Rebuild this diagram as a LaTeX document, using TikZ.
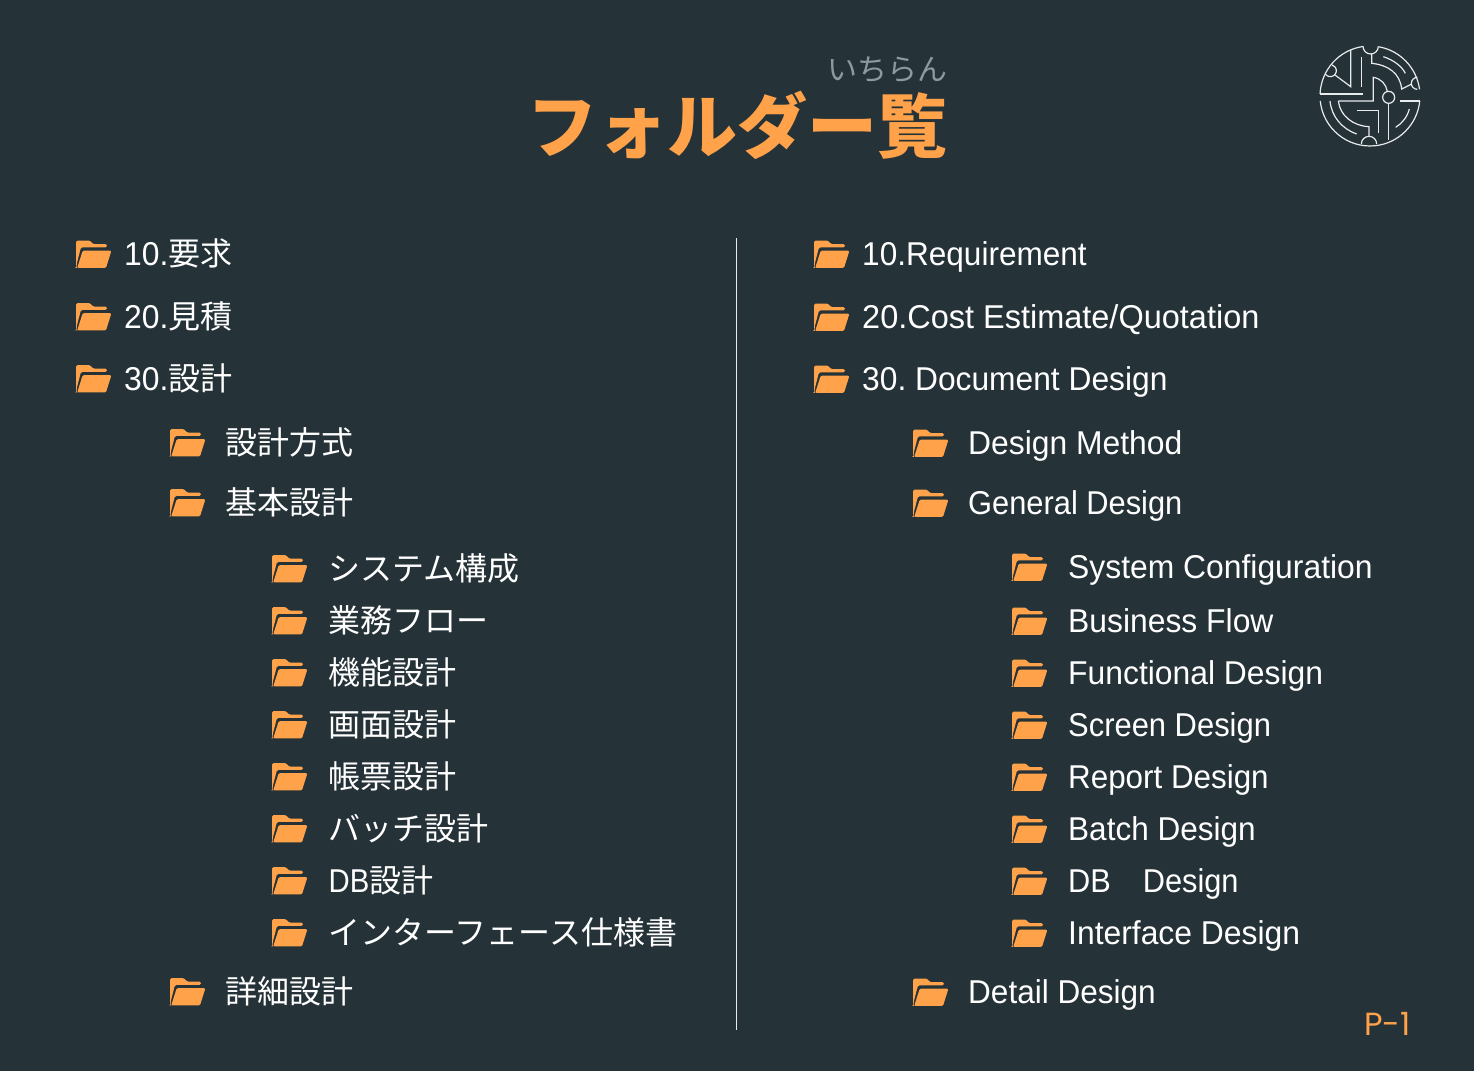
\documentclass[tikz,border=0pt]{standalone}
\usepackage{graphicx}
\usepackage{fontspec}
\setmainfont{Liberation Sans}[FakeStretch=0.965]
\newfontfamily\jpbase{Noto Sans CJK JP}
\newfontfamily\pg{Poppins}
\newcommand{\jp}{\jpbase\fontsize{32}{32}\selectfont}
\frenchspacing
\definecolor{bgc}{HTML}{253238}
\definecolor{org}{HTML}{FFA24A}
\definecolor{rubyc}{HTML}{8E999D}
\definecolor{logoc}{HTML}{E8EAEB}
\tikzset{
 rowtext/.style={anchor=base west,inner sep=0pt,text=white,font=\fontsize{33}{33}\selectfont},
 logoline/.style={draw=logoc,line width=1.2pt},
 folderpic/.pic={
  \fill[org,rounded corners=1.5pt] (0,0) -- (14,0) -- (17,3.7) -- (31,3.7) -- (31,6.8) -- (5,6.8) -- (0.8,23) -- (0.6,27.4) -- (0,27.4) -- cycle;
  \fill[org,rounded corners=1.2pt] (6.7,10.2) -- (35.4,10.2) -- (30,27.4) -- (1.2,27.4) -- cycle;
 }
}
\newcommand{\rowitem}[6][1]{%
 \pic at (#3,#5-13.5) {folderpic};
 \node[rowtext] (#2) at (#4,#5+11.5) {\scalebox{#1}[1]{#6}};
}
\begin{document}
\begin{tikzpicture}[x=1pt,y=-1pt]
\useasboundingbox (0,0) rectangle (1474,1071);
\fill[bgc] (0,0) rectangle (1474,1071);
\node[anchor=base,inner sep=0pt,text=org,font=\jpbase\bfseries\fontsize{70}{70}\selectfont] (title) at (737.5,152.5) {フォルダー覧};
\node[anchor=base,inner sep=0pt,text=rubyc,font=\jpbase\fontsize{30}{30}\selectfont] (ruby) at (887.5,80) {いちらん};
\node[anchor=base east,inner sep=0pt,text=org,font=\pg\fontsize{32}{32}\selectfont] (page) at (1411,1035) {P-1};
\coordinate (dtop) at (736.5,238);
\coordinate (dbot) at (736.5,1030);
\draw[draw=logoc,line width=1pt] (dtop) -- (dbot);
% left column
\rowitem{l1}{76}{124}{254}{10.{\jp 要求}}
\rowitem{l2}{76}{124}{316.5}{20.{\jp 見積}}
\rowitem{l3}{76}{124}{378.5}{30.{\jp 設計}}
\rowitem{l4}{170}{225}{442.5}{\jp 設計方式}
\rowitem{l5}{170}{225}{502.5}{\jp 基本設計}
\rowitem{l6}{272}{328.5}{568.5}{\jp システム構成}
\rowitem{l7}{272}{328.5}{620.5}{\jp 業務フロー}
\rowitem{l8}{272}{328.5}{672.5}{\jp 機能設計}
\rowitem{l9}{272}{328.5}{724.5}{\jp 画面設計}
\rowitem{l10}{272}{328.5}{776.5}{\jp 帳票設計}
\rowitem{l11}{272}{328.5}{828.5}{\jp バッチ設計}
\rowitem{l12}{272}{328.5}{880.5}{\scalebox{0.92}[1]{DB}{\jp 設計}}
\rowitem{l13}{272}{328.5}{932.5}{\jp インターフェース仕様書}
\rowitem{l14}{170}{225}{991.5}{\jp 詳細設計}
% right column
\rowitem[0.991]{r1}{814}{862}{254}{10.Requirement}
\rowitem[1.02]{r2}{814}{862}{317}{20.Cost Estimate/Quotation}
\rowitem[0.997]{r3}{814}{862}{379}{30. Document Design}
\rowitem{r4}{913}{968}{443}{Design Method}
\rowitem[0.968]{r5}{913}{968}{503}{General Design}
\rowitem{r6}{1012}{1068}{567}{System Configuration}
\rowitem{r7}{1012}{1068}{621}{Business Flow}
\rowitem{r8}{1012}{1068}{673}{Functional Design}
\rowitem[0.971]{r9}{1012}{1068}{725}{Screen Design}
\rowitem[0.985]{r10}{1012}{1068}{777}{Report Design}
\rowitem[0.99]{r11}{1012}{1068}{829}{Batch Design}
\rowitem[0.966]{r12}{1012}{1068}{881}{DB\hspace{33pt}Design}
\rowitem{r13}{1012}{1068}{933}{Interface Design}
\rowitem[0.99]{r14}{913}{968}{992}{Detail Design}
% logo (drawn in 3x crop coordinates; y points down, so angles run clockwise)
\begin{scope}[shift={(1300,30)},x=0.3333pt,y=-0.3333pt,logoline]
\coordinate (lc) at (210,198);
\draw (60,192) -- (188,192);
\draw (lc) ++(182.3:150) arc[start angle=182.3,end angle=262,radius=150];
\draw (lc) ++(280:150) arc[start angle=280,end angle=352.4,radius=150];
\draw (lc) ++(174.3:150) arc[start angle=174.3,end angle=5.7,radius=150];
\draw (300,213) -- (359,213);
\draw (189,49) arc[start angle=180,end angle=0,radius=23];
\draw (215,72) -- (215,100) .. controls (265,105) and (300,130) .. (305,177) -- (335,162);
\draw (250,80) .. controls (280,90) and (305,108) .. (316,130);
\draw (152,60) -- (152,170) -- (105,135);
\draw (185,80) -- (185,170);
\coordinate (lcirc) at (91,122);
\draw (lcirc) ++(145:18) arc[start angle=145,end angle=-73,radius=18];
\draw (352,142) arc[start angle=270,end angle=90,radius=18];
\draw (115,213) -- (220,213) -- (220,142) .. controls (243,146) and (258,162) .. (262,184);
\draw (266,202) circle[radius=18];
\draw (266,220) -- (266,330);
\draw (90,213) .. controls (95,260) and (125,296) .. (170,312);
\draw (115,213) .. controls (120,258) and (160,288) .. (207,290) -- (207,320);
\draw (184,342) arc[start angle=180,end angle=360,radius=23];
\draw (170,242) -- (235,242) -- (235,310);
\draw (328,237) .. controls (322,260) and (307,280) .. (287,292);
\end{scope}
\end{tikzpicture}
\end{document}
